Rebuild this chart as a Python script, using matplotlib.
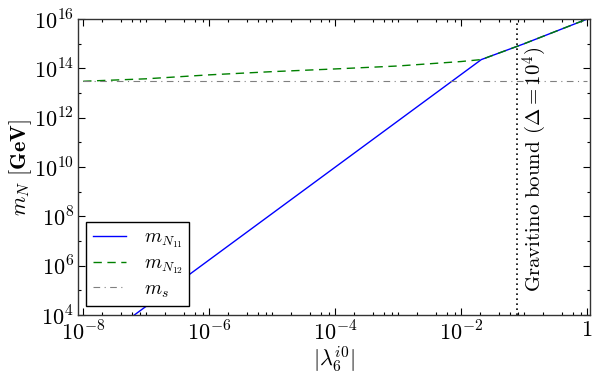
import numpy as np
import matplotlib
matplotlib.use("Agg")
import matplotlib.pyplot as plt
from matplotlib.ticker import FixedLocator, FixedFormatter, NullFormatter

# ---- data ----
lam_blue = [1e-8, 2.1e-2, 1e-1, 1.0]
m_N11 = [10**2.48, 10**14.36, 10**15.0, 1e16]

lam_green = [1e-8, 1e-7, 1e-6, 1e-5, 1e-4, 1e-3, 1e-2, 2.1e-2, 1e-1, 1.0]
m_N12 = [10**13.48, 10**13.58, 10**13.74, 10**13.87, 10**13.98, 10**14.10,
         10**14.28, 10**14.36, 10**15.0, 1e16]

lam_s = [1e-8, 1.0]
m_s = [3.0e13, 3.0e13]

lam_gravitino = 0.077
gravitino_label = r"Gravitino bound ($\Delta = 10^4$)"

x_ticks = [1e-8, 1e-6, 1e-4, 1e-2, 1]
x_ticklabels = [r"$10^{-8}$", r"$10^{-6}$", r"$10^{-4}$", r"$10^{-2}$", r"$1$"]
y_ticks = [1e4, 1e6, 1e8, 1e10, 1e12, 1e14, 1e16]
y_ticklabels = [r"$10^{4}$", r"$10^{6}$", r"$10^{8}$", r"$10^{10}$",
                r"$10^{12}$", r"$10^{14}$", r"$10^{16}$"]

plt.rcParams["mathtext.fontset"] = "cm"
plt.rcParams["font.family"] = ["cmr10", "DejaVu Serif"]
plt.rcParams["axes.formatter.use_mathtext"] = True

fig = plt.figure(figsize=(6.01, 3.82), dpi=100)
ax = fig.add_axes([0.130, 0.175, 0.852, 0.775])

ax.plot(lam_blue, m_N11, color="blue", lw=1.0, label=r"$m_{N_{11}}$")
ax.plot(lam_green, m_N12, color="green", lw=1.0, ls=(0, (6, 4)), label=r"$m_{N_{12}}$")
ax.plot(lam_s, m_s, color="gray", lw=0.8, ls=(0, (6, 4, 1, 4)), label=r"$m_s$")
ax.axvline(lam_gravitino, color="black", lw=1.2, ls=(0, (1, 2)))
ax.text(lam_gravitino * 1.15, 10**9.9, gravitino_label, rotation=90,
        ha="left", va="center", fontsize=15)

ax.set_xscale("log")
ax.set_yscale("log")
ax.set_xlim(10**-8.08, 10**0.05)
ax.set_ylim(1e4, 1e16)

ax.xaxis.set_major_locator(FixedLocator(x_ticks))
ax.xaxis.set_major_formatter(FixedFormatter(x_ticklabels))
xminor = []
for d in range(-9, 1):
    for s in (2, 4, 6, 8):
        xminor.append(s * 10.0**d)
for d in (-7, -5, -3, -1):
    xminor.append(10.0**d)
ax.xaxis.set_minor_locator(FixedLocator(xminor))
ax.yaxis.set_major_locator(FixedLocator(y_ticks))
ax.yaxis.set_major_formatter(FixedFormatter(y_ticklabels))
ax.yaxis.set_minor_locator(FixedLocator([10.0**k for k in range(5, 16, 2)]))
ax.xaxis.set_minor_formatter(NullFormatter())
ax.yaxis.set_minor_formatter(NullFormatter())

ax.tick_params(which="both", direction="in", top=True, right=True, labelsize=16, width=0.8)
ax.tick_params(which="major", length=5, pad=3)
ax.tick_params(axis="x", which="major", pad=4)
ax.tick_params(which="minor", length=2.5)
for sp in ax.spines.values():
    sp.set_linewidth(1.0)
    sp.set_color("#333333")

ax.set_xlabel(r"$|\lambda_6^{i0}|$", fontsize=16, labelpad=0)
ax.set_ylabel(r"$m_N$ $\mathbf{[GeV]}$", fontsize=16, labelpad=0)

leg = ax.legend(loc="lower left", fontsize=14, fancybox=False, framealpha=1,
                edgecolor="black", handlelength=1.7, borderpad=0.35,
                labelspacing=0.22, handletextpad=0.9,
                bbox_to_anchor=(-0.003, -0.003))
leg.get_frame().set_linewidth(1.0)

fig.savefig("out.png", dpi=100)
